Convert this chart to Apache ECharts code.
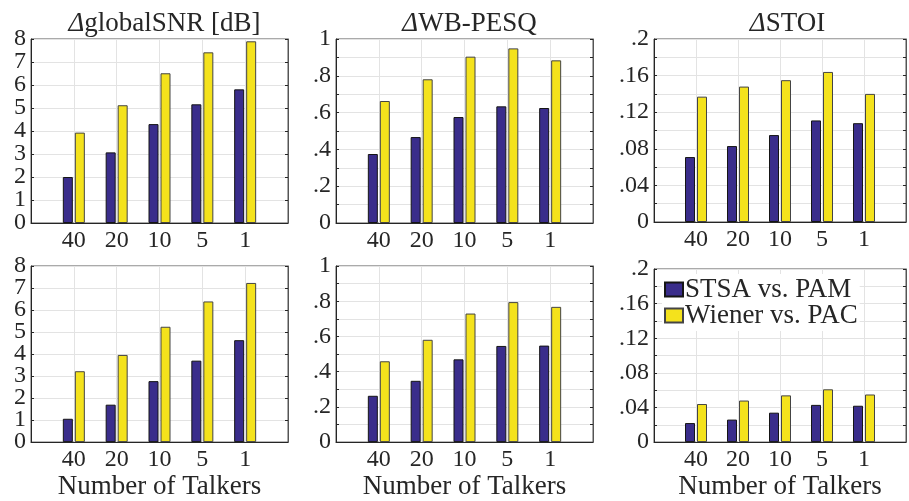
<!DOCTYPE html>
<html>
<head>
<meta charset="utf-8">
<script src="https://cdn.jsdelivr.net/npm/echarts@6/dist/echarts.min.js"></script>
<style>
html,body{margin:0;padding:0;background:#fff;}
#c{width:909px;height:501px;}
</style>
</head>
<body>
<div id="c"></div>
<script>
// ---- data ----
const talkers = ['40', '20', '10', '5', '1'];
const seriesNames = ['STSA vs. PAM', 'Wiener vs. PAC'];

// top row
const snrTopSTSA = [2.00, 3.07, 4.30, 5.16, 5.81];
const snrTopWiener = [3.93, 5.12, 6.51, 7.42, 7.90];
const pesqTopSTSA = [0.375, 0.467, 0.576, 0.634, 0.625];
const pesqTopWiener = [0.663, 0.781, 0.904, 0.949, 0.884];
const stoiTopSTSA = [0.071, 0.083, 0.095, 0.111, 0.108];
const stoiTopWiener = [0.137, 0.148, 0.155, 0.164, 0.140];

// bottom row
const snrBotSTSA = [1.06, 1.70, 2.77, 3.70, 4.63];
const snrBotWiener = [3.22, 3.96, 5.24, 6.39, 7.23];
const pesqBotSTSA = [0.263, 0.348, 0.470, 0.546, 0.548];
const pesqBotWiener = [0.459, 0.581, 0.730, 0.795, 0.768];
const stoiBotSTSA = [0.022, 0.026, 0.034, 0.043, 0.042];
const stoiBotWiener = [0.044, 0.048, 0.054, 0.061, 0.055];

// y tick labels
const snrTicks = ['0', '1', '2', '3', '4', '5', '6', '7', '8'];
const pesqTicks = ['0', '.2', '.4', '.6', '.8', '1'];
const stoiTicks = ['0', '.04', '.08', '.12', '.16', '.2'];

const titles = ['globalSNR [dB]', 'WB-PESQ', 'STOI'];
const xName = 'Number of Talkers';

// ---- layout / style ----
const FONT = 'Liberation Serif';
const BLUE = '#3a2d8b';
const YELLOW = '#f4e21c';
const grids = [
  {left: 31, top: 39, width: 257, height: 184},
  {left: 336, top: 39, width: 257, height: 184},
  {left: 654, top: 39, width: 257, height: 183},
  {left: 31, top: 266, width: 257, height: 183},
  {left: 336, top: 266, width: 257, height: 183},
  {left: 654, top: 269, width: 257, height: 182}
];
const yCfg = [
  {max: 8, interval: 1, labStep: 1, ticks: snrTicks},
  {max: 1, interval: 0.1, labStep: 0.2, ticks: pesqTicks},
  {max: 0.2, interval: 0.02, labStep: 0.04, ticks: stoiTicks}
];
const panelData = [
  [snrTopSTSA, snrTopWiener], [pesqTopSTSA, pesqTopWiener], [stoiTopSTSA, stoiTopWiener],
  [snrBotSTSA, snrBotWiener], [pesqBotSTSA, pesqBotWiener], [stoiBotSTSA, stoiBotWiener]
];

const option = {
  animation: false,
  backgroundColor: '#fff',
  textStyle: {fontFamily: FONT},
  grid: [], xAxis: [], yAxis: [], series: [], title: []
};

grids.forEach((g, i) => {
  option.grid.push(Object.assign({show: true, borderColor: '#555', borderWidth: 1, backgroundColor: '#fff', containLabel: false}, g));
  const bottomRow = i >= 3;
  option.xAxis.push({
    type: 'value', gridIndex: i, min: 0, max: 6, interval: 1,
    axisLine: {show: true, onZero: false, lineStyle: {color: '#262626', width: 1}},
    axisTick: {show: false},
    splitLine: {show: true, lineStyle: {color: '#e3e3e3', width: 1}},
    axisLabel: {
      fontFamily: FONT, fontSize: 24, color: '#262626', margin: 6,
      showMinLabel: true, showMaxLabel: true, hideOverlap: false,
      formatter: v => (v >= 1 && v <= 5) ? talkers[Math.round(v) - 1] : ''
    },
    name: bottomRow ? xName : '',
    nameLocation: 'middle', nameGap: 30,
    nameTextStyle: {fontFamily: FONT, fontSize: 27, color: '#262626'}
  });
  const yc = yCfg[i % 3];
  // label formatter: parity 0 -> even-indexed tick labels, parity 1 -> odd-indexed
  const mkFmt = parity => v => {
    const k = Math.round(v / yc.labStep);
    if (Math.abs(v - k * yc.labStep) > 1e-6) return '';
    return (k % 2 === parity) ? yc.ticks[k] : '';
  };
  const base = 3 * i;
  // main left axis (even labels, line, ticks, grid)
  option.yAxis.push({
    type: 'value', gridIndex: i, min: 0, max: yc.max, interval: yc.interval, position: 'left', offset: 0,
    axisLine: {show: true, lineStyle: {color: '#262626', width: 1}},
    axisTick: {show: true, inside: true, length: 3, lineStyle: {color: '#262626'}},
    splitLine: {show: true, lineStyle: {color: '#e3e3e3', width: 1}},
    axisLabel: {
      fontFamily: FONT, fontSize: 24, color: '#262626', margin: 5,
      showMinLabel: true, showMaxLabel: true, formatter: mkFmt(0)
    }
  });
  // second left axis (odd labels only)
  option.yAxis.push({
    type: 'value', gridIndex: i, min: 0, max: yc.max, interval: yc.interval, position: 'left', offset: 0,
    axisLine: {show: false}, axisTick: {show: false}, splitLine: {show: false},
    axisLabel: {
      fontFamily: FONT, fontSize: 24, color: '#262626', margin: 5,
      showMinLabel: true, showMaxLabel: true, formatter: mkFmt(1)
    }
  });
  // right mirror axis
  option.yAxis.push({
    type: 'value', gridIndex: i, min: 0, max: yc.max, interval: yc.interval, position: 'right',
    axisLine: {show: true, lineStyle: {color: '#555', width: 1}},
    axisTick: {show: true, inside: true, length: 3, lineStyle: {color: '#262626'}},
    splitLine: {show: false},
    axisLabel: {show: false}
  });
  const d = panelData[i];
  [0, 1].forEach(s => {
    option.series.push({
      type: 'bar', name: seriesNames[s], xAxisIndex: i, yAxisIndex: base,
      barWidth: 10, barGap: '20%',
      itemStyle: {color: s === 0 ? BLUE : YELLOW, borderColor: s === 0 ? '#151515' : '#444', borderWidth: 1},
      data: d[s].map((v, k) => [k + 1, v])
    });
  });
});

// titles above top row
[0, 1, 2].forEach(i => {
  const g = grids[i];
  option.title.push({
    text: '{d|Δ}' + titles[i],
    left: g.left + g.width / 2, top: 5, textAlign: 'center',
    textStyle: {
      fontFamily: FONT, fontSize: 27, fontWeight: 'normal', color: '#262626',
      rich: {d: {fontFamily: FONT, fontSize: 27, fontStyle: 'italic', color: '#262626'}}
    }
  });
});

option.legend = {
  show: true, orient: 'vertical', left: 662, top: 274,
  data: seriesNames, selectedMode: false,
  itemWidth: 18, itemHeight: 14, itemGap: -1,
  backgroundColor: '#fff', padding: [2, 2, 2, 2],
  textStyle: {fontFamily: FONT, fontSize: 27, lineHeight: 24, color: '#262626', padding: [0, 0, 0, -3]},
  icon: 'rect'
};

const chart = echarts.init(document.getElementById('c'), null, {renderer: 'canvas'});
chart.setOption(option);
</script>
</body>
</html>
